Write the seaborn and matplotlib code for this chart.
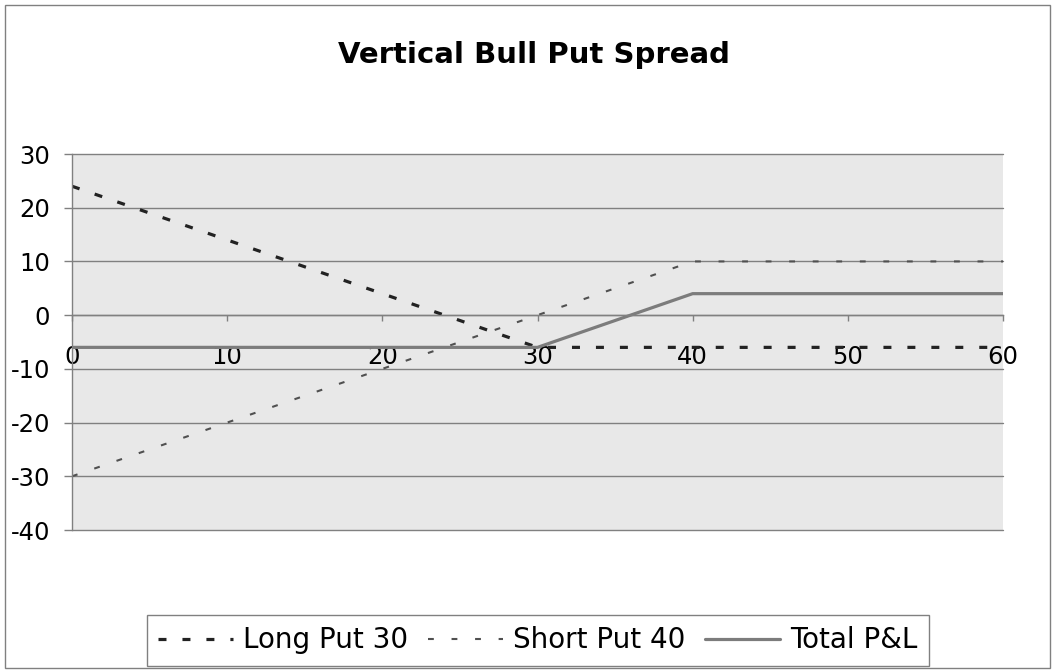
import matplotlib
matplotlib.use("Agg")
import matplotlib.pyplot as plt
from matplotlib.patches import Rectangle
import pandas as pd
import seaborn as sns

# payoff breakpoints (underlying price vs P&L)
price = [0, 30, 40, 60]
long_put_30 = [24, -6, -6, -6]
short_put_40 = [-30, 0, 10, 10]
total_pnl = [-6, -6, 4, 4]

x_ticks = [0, 10, 20, 30, 40, 50, 60]
y_ticks = [-40, -30, -20, -10, 0, 10, 20, 30]

df = pd.DataFrame({
    'price': price,
    'Long Put 30': long_put_30,
    'Short Put 40': short_put_40,
    'Total P&L': total_pnl,
})

sns.set_style("white")
plt.rcParams['font.family'] = ['DejaVu Sans']
plt.rcParams['axes.unicode_minus'] = False
plt.rcParams['text.color'] = 'black'

fig = plt.figure(figsize=(10.55, 6.71), dpi=100)
ax = fig.add_axes([72 / 1055, 1 - 530 / 671, (1003 - 72) / 1055, (530 - 154) / 671])

# light grey plot area (Excel dotted fill)
ax.set_facecolor('#e8e8e8')

sns.lineplot(data=df, x='price', y='Long Put 30', ax=ax, color='#222222',
             lw=2.3, linestyle=(0, (2.5, 5.0)), label='Long Put 30')
sns.lineplot(data=df, x='price', y='Short Put 40', ax=ax, color='#505050',
             lw=1.5, linestyle=(0, (2.8, 8.5)), label='Short Put 40')
sns.lineplot(data=df, x='price', y='Total P&L', ax=ax, color='#7c7c7c',
             lw=2.3, label='Total P&L')

ax.set_xlim(0, 60)
ax.set_ylim(-40, 30)
ax.set_xticks(x_ticks)
ax.set_yticks(y_ticks)
ax.set_xlabel('')
ax.set_ylabel('')

ax.set_axisbelow(True)
ax.yaxis.grid(True, color='#808080', lw=1)
ax.xaxis.grid(False)
for gl in ax.get_ygridlines():
    gl.set_clip_on(False)

for s in ['top', 'right']:
    ax.spines[s].set_visible(False)
ax.spines['bottom'].set_position(('data', 0))
for s in ['left', 'bottom']:
    ax.spines[s].set_color('#808080')
    ax.spines[s].set_linewidth(1)

ax.tick_params(axis='y', direction='out', length=5.8, width=1, color='#808080',
               pad=10, labelsize=17.5, labelcolor='black', left=True)
ax.tick_params(axis='x', direction='out', length=4.3, width=1, color='#808080',
               pad=17, labelsize=17.5, labelcolor='black', bottom=True)

fig.suptitle('Vertical Bull Put Spread', x=533.5 / 1055, y=1 - 63 / 671,
             va='baseline', ha='center', fontsize=21, fontweight='bold',
             color='black')

leg = ax.legend(loc='center', bbox_to_anchor=(538 / 1055, 1 - 640.5 / 671),
                bbox_transform=fig.transFigure, ncol=3, fontsize=20,
                frameon=True, fancybox=False, framealpha=1, edgecolor='#808080',
                handlelength=2.7, handletextpad=0.37, columnspacing=0.7,
                borderpad=0.4, borderaxespad=0)
leg.get_frame().set_linewidth(1)
for t in leg.get_texts():
    t.set_color('black')

# outer chart border
fig.patches.append(Rectangle((5 / 1055, 3 / 671), 1045 / 1055, 663 / 671,
                             transform=fig.transFigure, fill=False,
                             edgecolor='#808080', lw=1))

fig.savefig('out.png', dpi=100)
